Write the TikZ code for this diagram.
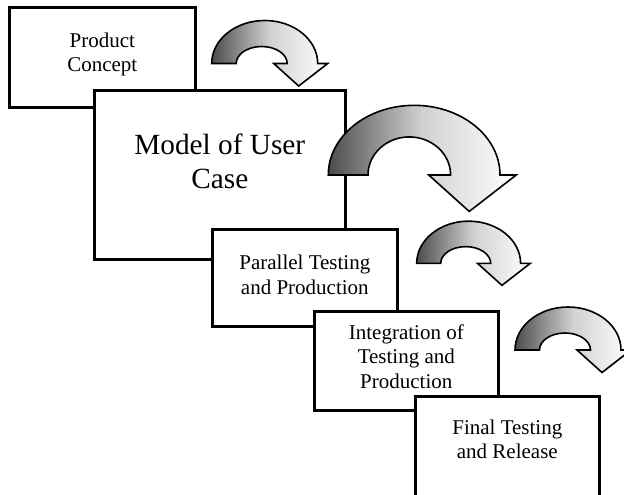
\documentclass[tikz,border=0pt]{standalone}
\usepackage{fontspec}
\setmainfont{Liberation Serif}

\begin{document}
\begin{tikzpicture}[x = 1pt, y = -1pt,
    stage/.style = {draw, fill = white, line width = 2.6pt, inner sep = 0pt, anchor = north west},
    steptext/.style = {align = center, font = \fontsize{21}{24.5}\selectfont},
    bigtext/.style = {align = center, font = \fontsize{29.3}{34}\selectfont},
    turn/.pic = {
        \path[draw, line width = 1.6pt, left color = black!70, right color = white, middle color = black!18]
            (0,0) arc[start angle = 180, end angle = 360, x radius = 53, y radius = 43]
            -- (116,0) -- (87,22.5) -- (62,0) -- (75.5,0)
            arc[start angle = 0, end angle = -180, x radius = 25.5, y radius = #1] -- cycle;
    }]
        % frame
        \path[use as bounding box](0,0)rectangle(624,495);
        \clip(0,0)rectangle(624,495);
        % stages and turns
        \node[stage, minimum width = 186pt, minimum height = 100pt](concept)at(8,6){};
        \pic(turnA)at(211.7,63.5){turn = 17};
        \node[stage, minimum width = 251pt, minimum height = 169pt](model)at(93,89){};
        \pic[scale = 1.62](turnB)at(328.3,175){turn = 23.5};
        \node[stage, minimum width = 185pt, minimum height = 97pt](parallel)at(211,228){};
        \pic[scale = 0.98](turnC)at(416.7,263.3){turn = 17};
        \node[stage, minimum width = 184pt, minimum height = 99pt](integration)at(313,310){};
        \pic(turnD)at(515,350){turn = 17};
        \node[stage, minimum width = 184pt, minimum height = 100.5pt](release)at(414,395){};
        % text
        \node[steptext, yshift = 3pt](concepttext)at(concept.center){Product\\Concept};
        \node[bigtext, yshift = 13.5pt](modeltext)at(model.center){Model of User\\Case};
        \node[steptext, yshift = 3pt](paralleltext)at(parallel.center){Parallel Testing\\and Production};
        \node[steptext, yshift = 4.5pt](integrationtext)at(integration.center){Integration of\\Testing and\\Production};
        \node[steptext, yshift = 7pt](releasetext)at(release.center){Final Testing\\and Release};
    \end{tikzpicture}
\end{document}
